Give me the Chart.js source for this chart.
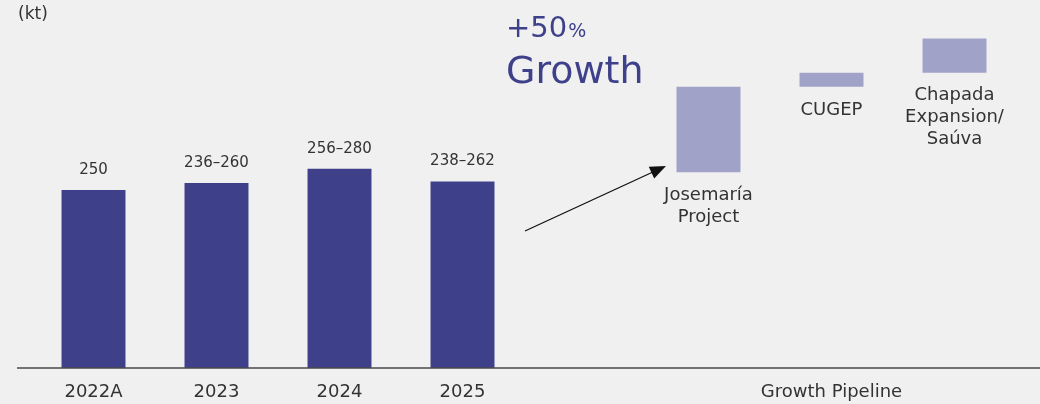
<!DOCTYPE html>
<html>
<head>
<meta charset="utf-8">
<script src="https://cdn.jsdelivr.net/npm/chart.js@4.4.1/dist/chart.umd.min.js"></script>
<style>
  body { margin: 0; background: #f0f0f0; }
  #wrap { position: relative; width: 1040px; height: 404px; }
</style>
</head>
<body>
<div id="wrap"><canvas id="ctx"></canvas></div>
<script>
'use strict';
// categories on the x axis (empty slots keep the spacing of the pipeline bars)
const categories = ['2022A', '2023', '2024', '2025', '', '', 'Growth Pipeline', ''];
// production bars, drawn to the top of the guidance range
const production = [250, 260, 280, 262, null, null, null, null];
const productionLabels = ['250', '236–260', '256–280', '238–262'];
// pipeline bars float on top of each other
const pipelineLow = [null, null, null, null, null, 275, 395, 415];
const pipelineHigh = [null, null, null, null, null, 395, 415, 463];
const pipelineNames = [null, null, null, null, null,
  ['Josemaría', 'Project'], ['CUGEP'], ['Chapada', 'Expansion/', 'Saúva']];

const FONT = '"DejaVu Sans", sans-serif';
const DARK = '#3e418a';
const LIGHT = '#a0a2c8';

const labelsPlugin = {
  id: 'labels',
  afterDatasetsDraw(chart) {
    const c = chart.ctx;
    const area = chart.chartArea;
    c.save();
    // axis line
    c.strokeStyle = '#4a4a4a';
    c.lineWidth = 1.5;
    c.beginPath();
    c.moveTo(17, area.bottom);
    c.lineTo(1040, area.bottom);
    c.stroke();

    c.fillStyle = '#333';
    c.textAlign = 'center';
    c.textBaseline = 'middle';
    c.font = '15px ' + FONT;
    chart.getDatasetMeta(0).data.forEach((bar, i) => {
      if (productionLabels[i]) c.fillText(productionLabels[i], bar.x, bar.y - 20);
    });

    c.font = '18px ' + FONT;
    chart.getDatasetMeta(1).data.forEach((bar, i) => {
      const lines = pipelineNames[i];
      if (!lines) return;
      const bottom = Math.max(bar.y, bar.base);
      lines.forEach((t, k) => c.fillText(t, bar.x, bottom + 23 + k * 22));
    });

    // "(kt)" unit
    c.textAlign = 'left';
    c.font = '17px ' + FONT;
    c.fillText('(kt)', 18, 15);

    // +50% Growth
    c.fillStyle = DARK;
    c.textBaseline = 'alphabetic';
    c.font = '29px ' + FONT;
    c.fillText('+50', 506, 37);
    const w = c.measureText('+50').width;
    c.font = '19px ' + FONT;
    c.fillText('%', 506 + w + 1, 37);
    c.font = '38px ' + FONT;
    c.fillText('Growth', 506, 83);

    // arrow toward the pipeline
    const x0 = 525, y0 = 231, x1 = 666, y1 = 166;
    const ang = Math.atan2(y1 - y0, x1 - x0);
    c.strokeStyle = '#111';
    c.fillStyle = '#111';
    c.lineWidth = 1.3;
    c.beginPath();
    c.moveTo(x0, y0);
    c.lineTo(x1 - 12 * Math.cos(ang), y1 - 12 * Math.sin(ang));
    c.stroke();
    c.beginPath();
    c.moveTo(x1, y1);
    c.lineTo(x1 - 16 * Math.cos(ang) + 6.5 * Math.sin(ang), y1 - 16 * Math.sin(ang) - 6.5 * Math.cos(ang));
    c.lineTo(x1 - 16 * Math.cos(ang) - 6.5 * Math.sin(ang), y1 - 16 * Math.sin(ang) + 6.5 * Math.cos(ang));
    c.closePath();
    c.fill();
    c.restore();
  }
};

new Chart(document.getElementById('ctx'), {
  type: 'bar',
  data: {
    labels: categories,
    datasets: [
      {
        data: production,
        backgroundColor: DARK
      },
      {
        data: pipelineLow.map((lo, i) => lo === null ? null : [lo, pipelineHigh[i]]),
        backgroundColor: LIGHT
      }
    ]
  },
  options: {
    responsive: true,
    maintainAspectRatio: false,
    animation: false,
    layout: { padding: { top: 10, left: 32, right: 24, bottom: 3 } },
    datasets: { bar: { grouped: false, categoryPercentage: 1, barPercentage: 0.52 } },
    plugins: { legend: { display: false }, tooltip: { enabled: false } },
    scales: {
      x: {
        grid: { display: false, drawTicks: false },
        border: { display: false },
        ticks: { autoSkip: false, maxRotation: 0, padding: 14, color: '#333', font: { family: FONT, size: 18 } },
        afterFit(scale) { scale.height = 33; }
      },
      y: { display: false, min: 0, max: 503 }
    }
  },
  plugins: [labelsPlugin]
});
</script>
</body>
</html>
